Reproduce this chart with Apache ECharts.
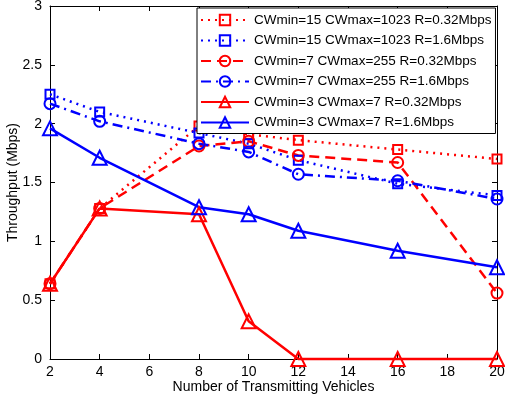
<!DOCTYPE html>
<html>
<head>
<meta charset="utf-8">
<script src="https://cdn.jsdelivr.net/npm/echarts@6/dist/echarts.min.js"></script>
<style>
  html, body { margin: 0; padding: 0; background: #fff; }
  #chart { width: 505px; height: 403px; }
</style>
</head>
<body>
<div id="chart"></div>
<script>
// number of transmitting vehicles
const vehicles = [2, 4, 8, 10, 12, 16, 20]
// throughput (Mbps) per configuration
const cw15Low = [0.64, 1.28, 1.98, 1.91, 1.86, 1.78, 1.70]
const cw15High = [2.25, 2.10, 1.92, 1.83, 1.69, 1.49, 1.39]
const cw7Low = [0.64, 1.28, 1.81, 1.85, 1.73, 1.67, 0.56]
const cw7High = [2.17, 2.02, 1.83, 1.76, 1.57, 1.515, 1.36]
const cw3Low = [0.64, 1.28, 1.23, 0.32, 0, 0, 0]
const cw3High = [1.96, 1.71, 1.29, 1.23, 1.09, 0.92, 0.78]

const seriesNames = [
  'CWmin=15 CWmax=1023 R=0.32Mbps',
  'CWmin=15 CWmax=1023 R=1.6Mbps',
  'CWmin=7 CWmax=255 R=0.32Mbps',
  'CWmin=7 CWmax=255 R=1.6Mbps',
  'CWmin=3 CWmax=7 R=0.32Mbps',
  'CWmin=3 CWmax=7 R=1.6Mbps'
]
const seriesValues = [cw15Low, cw15High, cw7Low, cw7High, cw3Low, cw3High]

const RED = '#ff0000'
const BLUE = '#0000ff'
const FONT = 'Liberation Sans'

// style per series: colour, dash pattern, marker
const styles = [
  { color: RED, dash: [2, 5], symbol: 'rect', size: 9 },
  { color: BLUE, dash: [2, 5], symbol: 'rect', size: 9 },
  { color: RED, dash: [10, 6], symbol: 'circle', size: 11 },
  { color: BLUE, dash: [10, 5, 2, 5], symbol: 'circle', size: 11 },
  { color: RED, dash: 'solid', symbol: 'triangle', size: 14 },
  { color: BLUE, dash: 'solid', symbol: 'triangle', size: 14 }
]

const chart = echarts.init(document.getElementById('chart'), null, { renderer: 'canvas' })

const axisCommon = {
  axisLine: { show: true, onZero: false, lineStyle: { color: '#000', width: 1 } },
  axisTick: { show: true, inside: true, length: 5, lineStyle: { color: '#000' } },
  splitLine: { show: false }
}

chart.setOption({
  backgroundColor: '#fff',
  animation: false,
  textStyle: { fontFamily: FONT },
  grid: { left: 50, right: 8, top: 6, bottom: 44, containLabel: false, outerBoundsMode: 'none' },
  legend: {
    orient: 'vertical',
    left: 197,
    top: 8,
    backgroundColor: '#fff',
    borderColor: '#000',
    borderWidth: 1,
    borderRadius: 0,
    padding: [5, 4, 4, 3],
    itemWidth: 48,
    itemHeight: 13,
    itemGap: 6.5,
    textStyle: { fontFamily: FONT, fontSize: 13.5, color: '#000' },
    data: seriesNames
  },
  xAxis: [
    {
      type: 'value',
      min: 2,
      max: 20,
      interval: 2,
      name: 'Number of Transmitting Vehicles',
      nameLocation: 'middle',
      nameGap: 21,
      nameMoveOverlap: false,
      nameTextStyle: { fontFamily: FONT, fontSize: 14, color: '#000', verticalAlign: 'top', padding: 0 },
      axisLabel: { fontFamily: FONT, fontSize: 14, color: '#000', margin: 6 },
      ...axisCommon
    },
    {
      type: 'value',
      position: 'top',
      min: 2,
      max: 20,
      interval: 2,
      axisLabel: { show: false },
      ...axisCommon
    }
  ],
  yAxis: [
    {
      type: 'value',
      min: 0,
      max: 3,
      interval: 0.5,
      name: 'Throughput (Mbps)',
      nameLocation: 'middle',
      nameGap: 30,
      nameMoveOverlap: false,
      nameTextStyle: { fontFamily: FONT, fontSize: 14, color: '#000' },
      axisLabel: { fontFamily: FONT, fontSize: 14, color: '#000', margin: 8 },
      ...axisCommon
    },
    {
      type: 'value',
      position: 'right',
      min: 0,
      max: 3,
      interval: 0.5,
      axisLabel: { show: false },
      ...axisCommon
    }
  ],
  series: seriesNames.map((name, i) => ({
    name,
    type: 'line',
    xAxisIndex: 0,
    yAxisIndex: 0,
    data: vehicles.map((v, j) => [v, seriesValues[i][j]]),
    symbol: styles[i].symbol,
    symbolSize: styles[i].size,
    showAllSymbol: true,
    clip: false,
    lineStyle: { color: styles[i].color, width: 2.5, type: styles[i].dash },
    itemStyle: {
      color: 'rgba(255,255,255,0)',
      borderColor: styles[i].color,
      borderWidth: 2
    },
    emphasis: { disabled: true }
  }))
})
</script>
</body>
</html>
